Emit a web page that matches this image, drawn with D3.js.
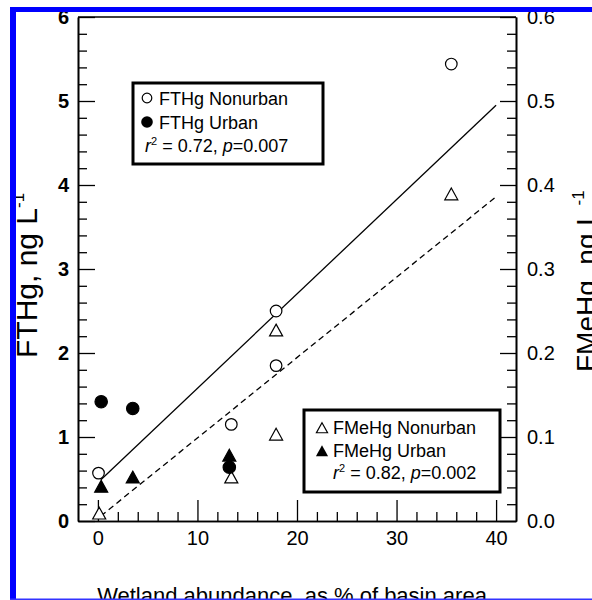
<!DOCTYPE html>
<html><head><meta charset="utf-8">
<script src="https://cdn.jsdelivr.net/npm/d3@7"></script>
<style>html,body{margin:0;padding:0;background:#fff;overflow:hidden}</style>
</head><body>
<script>
// ---- data ----
const thgNonurbanX = [0.06, 13.4, 17.9, 17.9, 35.5];
const thgNonurbanY = [0.57, 1.15, 2.50, 1.85, 5.44];
const thgUrbanX = [0.33, 3.5, 13.2];
const thgUrbanY = [1.42, 1.34, 0.64];
const mehgNonurbanX = [0.13, 13.4, 17.9, 17.9, 35.5];
const mehgNonurbanY = [0.009, 0.052, 0.103, 0.227, 0.389];
const mehgUrbanX = [0.33, 3.5, 13.2];
const mehgUrbanY = [0.041, 0.052, 0.078];
const thgFitX = [0.3, 40];
const thgFitY = [0.49, 4.95];
const mehgFitX = [0.3, 40];
const mehgFitY = [0.006, 0.386];
const xTicks = [0, 10, 20, 30, 40];
const xMinor = [2,4,6,8,12,14,16,18,22,24,26,28,32,34,36,38];
const yTicks = [0, 1, 2, 3, 4, 5, 6];
const y2Ticks = [0, 0.1, 0.2, 0.3, 0.4, 0.5, 0.6];
const legend1 = ["FTHg Nonurban", "FTHg Urban"];
const legend2 = ["FMeHg Nonurban", "FMeHg Urban"];

const W = 592, H = 600;
const FONT = "'Liberation Sans', Arial, Helvetica, sans-serif";
const svg = d3.select("body").append("svg").attr("width", W).attr("height", H)
  .style("font-family", FONT);

const L = 78, R = 516, T = 17, B = 521;
const x = d3.scaleLinear().domain([-2, 42]).range([L, R]);
const y = d3.scaleLinear().domain([0, 6]).range([B, T]);
const y2 = d3.scaleLinear().domain([0, 0.6]).range([B, T]);

function styleAxis(g, fs, weight) {
  g.selectAll("path.domain").attr("stroke", "#000").attr("stroke-width", 1.6);
  g.selectAll(".tick line").attr("stroke", "#000").attr("stroke-width", 1.3);
  g.selectAll(".tick text").attr("font-size", fs).attr("font-weight", weight || "normal")
    .attr("fill", "#000").attr("font-family", FONT);
}

// minor ticks
const yMinor = d3.range(0, 6.001, 0.2).filter(v => Math.abs(v - Math.round(v)) > 0.01);
svg.append("g").attr("transform", `translate(${L},0)`)
  .call(d3.axisLeft(y).tickValues(yMinor).tickSize(-9).tickSizeOuter(0).tickFormat(""))
  .call(g => styleAxis(g, 20));
svg.append("g").attr("transform", `translate(${R},0)`)
  .call(d3.axisRight(y2).tickValues(yMinor.map(v => v / 10)).tickSize(-9).tickSizeOuter(0).tickFormat(""))
  .call(g => styleAxis(g, 20));
svg.append("g").attr("transform", `translate(0,${B})`)
  .call(d3.axisBottom(x).tickValues(xMinor).tickSize(-9).tickSizeOuter(0).tickFormat(""))
  .call(g => styleAxis(g, 20));

// major axes
svg.append("g").attr("transform", `translate(${L},0)`)
  .call(d3.axisLeft(y).tickValues(yTicks).tickSize(-17).tickSizeOuter(0).tickPadding(9).tickFormat(d3.format("d")))
  .call(g => styleAxis(g, 20, "bold"));
svg.append("g").attr("transform", `translate(${R},0)`)
  .call(d3.axisRight(y2).tickValues(y2Ticks).tickSize(-16).tickSizeOuter(0).tickPadding(11).tickFormat(d3.format(".1f")))
  .call(g => styleAxis(g, 20));
svg.append("g").attr("transform", `translate(0,${B})`)
  .call(d3.axisBottom(x).tickValues(xTicks).tickSize(-21).tickSizeOuter(0).tickPadding(10).tickFormat(d3.format("d")))
  .call(g => styleAxis(g, 20));

// top frame
svg.append("line").attr("x1", L).attr("x2", R).attr("y1", T).attr("y2", T)
  .attr("stroke", "#000").attr("stroke-width", 1.6);

// regression lines
const line = d3.line();
svg.append("path").attr("d", line(thgFitX.map((v, i) => [x(v), y(thgFitY[i])])))
  .attr("stroke", "#000").attr("stroke-width", 1.3).attr("fill", "none");
svg.append("path").attr("d", line(mehgFitX.map((v, i) => [x(v), y2(mehgFitY[i])])))
  .attr("stroke", "#000").attr("stroke-width", 1.3).attr("fill", "none").attr("stroke-dasharray", "6,4");

// markers
const tri = s => `M0,${-s}L${s * 1.05},${s * 0.9}L${-s * 1.05},${s * 0.9}Z`;
function circles(xs, ys, sc, filled) {
  svg.append("g").selectAll("circle").data(xs).join("circle")
    .attr("cx", d => x(d)).attr("cy", (d, i) => sc(ys[i])).attr("r", filled ? 6.2 : 5.8)
    .attr("fill", filled ? "#000" : "#fff").attr("stroke", "#000").attr("stroke-width", 1.2);
}
function triangles(xs, ys, sc, filled) {
  svg.append("g").selectAll("path").data(xs).join("path")
    .attr("transform", (d, i) => `translate(${x(d)},${sc(ys[i])})`)
    .attr("d", tri(6.2))
    .attr("fill", filled ? "#000" : "#fff").attr("stroke", "#000").attr("stroke-width", 1.2);
}
circles(thgNonurbanX, thgNonurbanY, y, false);
triangles(mehgNonurbanX, mehgNonurbanY, y2, false);
triangles(mehgUrbanX, mehgUrbanY, y2, true);
circles(thgUrbanX, thgUrbanY, y, true);

// legend 1
const lg1 = svg.append("g");
lg1.append("rect").attr("x", 133).attr("y", 83).attr("width", 190).attr("height", 81)
  .attr("fill", "#fff").attr("stroke", "#000").attr("stroke-width", 3);
lg1.append("circle").attr("cx", 147).attr("cy", 98).attr("r", 4.8).attr("fill", "#fff").attr("stroke", "#000").attr("stroke-width", 1.2);
lg1.append("circle").attr("cx", 147).attr("cy", 122).attr("r", 5.8).attr("fill", "#000");
lg1.selectAll("text.l").data(legend1).join("text").attr("class", "l")
  .attr("x", 159).attr("y", (d, i) => 105 + i * 24).attr("font-size", 18).text(d => d);
const s1 = lg1.append("text").attr("x", 145).attr("y", 152).attr("font-size", 18);
s1.append("tspan").attr("font-style", "italic").text("r");
s1.append("tspan").attr("font-size", 11).attr("dy", -7).text("2");
s1.append("tspan").attr("dy", 7).text(" = 0.72, ");
s1.append("tspan").attr("font-style", "italic").text("p");
s1.append("tspan").text("=0.007");

// legend 2
const lg2 = svg.append("g");
lg2.append("rect").attr("x", 304).attr("y", 410).attr("width", 196).attr("height", 82)
  .attr("fill", "#fff").attr("stroke", "#000").attr("stroke-width", 3);
lg2.append("path").attr("transform", "translate(322,428)").attr("d", tri(5.3))
  .attr("fill", "#fff").attr("stroke", "#000").attr("stroke-width", 1.2);
lg2.append("path").attr("transform", "translate(322,451)").attr("d", tri(5.8))
  .attr("fill", "#000");
lg2.selectAll("text.l").data(legend2).join("text").attr("class", "l")
  .attr("x", 333).attr("y", (d, i) => 434 + i * 23).attr("font-size", 18).text(d => d);
const s2 = lg2.append("text").attr("x", 333).attr("y", 479).attr("font-size", 18);
s2.append("tspan").attr("font-style", "italic").text("r");
s2.append("tspan").attr("font-size", 11).attr("dy", -7).text("2");
s2.append("tspan").attr("dy", 7).text(" = 0.82, ");
s2.append("tspan").attr("font-style", "italic").text("p");
s2.append("tspan").text("=0.002");

// axis titles
const yt = svg.append("text").attr("transform", "translate(37,358) rotate(-90)")
  .attr("font-size", 30).attr("text-anchor", "start");
yt.append("tspan").text("FTHg, ng L");
yt.append("tspan").attr("font-size", 17).attr("dy", -13).text("-1");
const y2t = svg.append("text").attr("transform", "translate(596,372) rotate(-90)")
  .attr("font-size", 28).attr("text-anchor", "start");
y2t.append("tspan").text("FMeHg, ng L");
y2t.append("tspan").attr("font-size", 17).attr("dy", -12).text(" -1");
svg.append("text").attr("x", 292).attr("y", 603).attr("text-anchor", "middle")
  .attr("font-size", 22).text("Wetland abundance, as % of basin area");

// blue frame
svg.append("rect").attr("x", 10).attr("y", 7).attr("width", W - 10).attr("height", 5).attr("fill", "#0000ff");
svg.append("rect").attr("x", 10).attr("y", 7).attr("width", 6).attr("height", H - 7).attr("fill", "#0000ff");
svg.append("rect").attr("x", 10).attr("y", 598.5).attr("width", W - 10).attr("height", 1.5).attr("fill", "#3333ff");
</script>
</body></html>
